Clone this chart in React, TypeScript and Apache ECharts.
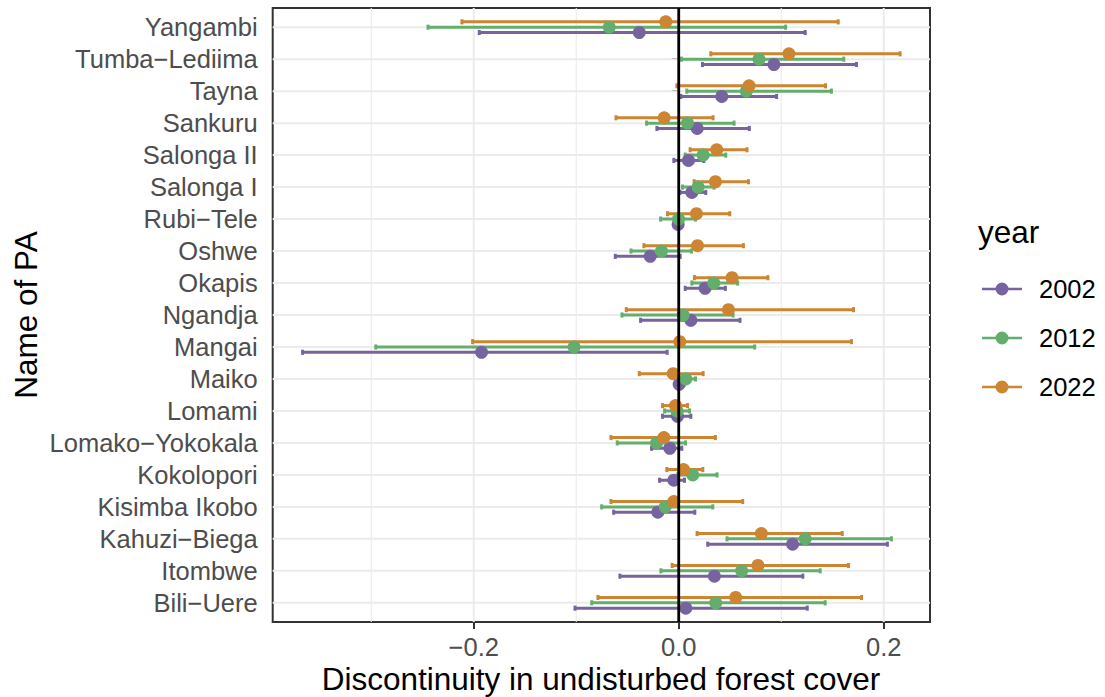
import React, { useEffect, useRef } from "react";
import * as echarts from "echarts";

// Categories bottom -> top
const CATEGORIES = [
  "Bili\u2212Uere", "Itombwe", "Kahuzi\u2212Biega", "Kisimba Ikobo", "Kokolopori",
  "Lomako\u2212Yokokala", "Lomami", "Maiko", "Mangai", "Ngandja", "Okapis", "Oshwe",
  "Rubi\u2212Tele", "Salonga I", "Salonga II", "Sankuru", "Tayna", "Tumba\u2212Lediima", "Yangambi",
];

const YEARS = ["2002", "2012", "2022"];

const EST_2002 = [0.0069, 0.0348, 0.1111, -0.0204, -0.0048, -0.0087, -0.0012, 0.0004, -0.1924, 0.0118, 0.0257, -0.0278, -0.0006, 0.0128, 0.0095, 0.018, 0.042, 0.0929, -0.0385];
const LO_2002 = [-0.1012, -0.0574, 0.0283, -0.0635, -0.0187, -0.0265, -0.0158, -0.003, -0.367, -0.0372, 0.0063, -0.0619, -0.004, 0.0011, -0.0048, -0.0213, 0.002, 0.0232, -0.1946];
const HI_2002 = [0.1254, 0.1211, 0.2036, 0.0157, 0.0056, 0.003, 0.0118, 0.005, -0.0113, 0.0598, 0.0455, 0.0014, 0.003, 0.0264, 0.0244, 0.0689, 0.0955, 0.1734, 0.1234];

const EST_2012 = [0.0361, 0.0614, 0.1234, -0.0132, 0.0137, -0.0216, -0.0016, 0.0069, -0.1021, 0.0043, 0.0342, -0.0168, -0.0002, 0.0189, 0.0238, 0.0085, 0.066, 0.0783, -0.0678];
const LO_2012 = [-0.0849, -0.0174, 0.0471, -0.0752, -0.001, -0.06, -0.0138, -0.002, -0.2956, -0.0554, 0.0128, -0.0466, -0.0177, 0.0037, 0.0063, -0.0314, 0.0079, 0.0027, -0.2446];
const HI_2012 = [0.1429, 0.138, 0.2075, 0.0332, 0.0374, 0.0066, 0.0105, 0.0164, 0.0741, 0.053, 0.0575, 0.0124, 0.0164, 0.0345, 0.0459, 0.054, 0.149, 0.161, 0.1043];

const EST_2022 = [0.0556, 0.0773, 0.0806, -0.0048, 0.0047, -0.0145, -0.0031, -0.0054, 0.001, 0.0485, 0.052, 0.0183, 0.0173, 0.0358, 0.0371, -0.0142, 0.0686, 0.1075, -0.0126];
const LO_2022 = [-0.0788, -0.0064, 0.0179, -0.0661, -0.0116, -0.0661, -0.0158, -0.0385, -0.2011, -0.0512, 0.0153, -0.034, -0.0109, 0.015, 0.0111, -0.0612, -0.0018, 0.0313, -0.2115];
const HI_2022 = [0.1783, 0.1656, 0.1595, 0.0624, 0.0235, 0.0358, 0.0086, 0.0238, 0.1685, 0.1705, 0.087, 0.0631, 0.0498, 0.068, 0.0666, 0.0335, 0.1432, 0.216, 0.1556];

const X_MAJOR = [-0.2, 0, 0.2];
const X_MINOR = [-0.3, -0.1, 0.1];

const COLORS = ["#7763A0", "#64AE6D", "#CD8531"];
const FONT = "'Liberation Sans', Arial, Helvetica, sans-serif";

export default function App() {
  const ref = useRef<HTMLDivElement>(null);
  useEffect(() => {
    if (!ref.current) return;
    const chart = echarts.init(ref.current, undefined, { renderer: "svg" });

    const est = [EST_2002, EST_2012, EST_2022];
    const lo = [LO_2002, LO_2012, LO_2022];
    const hi = [HI_2002, HI_2012, HI_2022];
    const DODGE = 0.5 / 3;
    const offsets = [-DODGE, 0, DODGE];
    const CAP = 0.08;

    const allLo = Math.min(...LO_2002, ...LO_2012, ...LO_2022);
    const allHi = Math.max(...HI_2002, ...HI_2012, ...HI_2022);
    const range = allHi - allLo;
    const X_MIN = allLo - 0.05 * range;
    const X_MAX = allHi + 0.05 * range;
    const Y_MIN = 0.4;
    const Y_MAX = CATEGORIES.length + 0.6;
    const Y_TICKS = CATEGORIES.map((_, i) => i + 1);

    const vLineSeries = (vals: number[], color: string, width: number, z: number) => ({
      type: "custom",
      silent: true,
      z,
      encode: { x: 0, y: 1 },
      data: vals.map((v) => [v, Y_MIN]),
      renderItem: (params: any, api: any) => {
        const cs = params.coordSys;
        const x = api.coord([api.value(0), api.value(1)])[0];
        return {
          type: "line",
          shape: { x1: x, y1: cs.y, x2: x, y2: cs.y + cs.height },
          style: { stroke: color, lineWidth: width },
        };
      },
    });

    const hLineSeries = {
      type: "custom",
      silent: true,
      z: 1,
      encode: { x: 0, y: 1 },
      data: Y_TICKS.map((v) => [X_MIN, v]),
      renderItem: (params: any, api: any) => {
        const cs = params.coordSys;
        const y = api.coord([api.value(0), api.value(1)])[1];
        return {
          type: "line",
          shape: { x1: cs.x, y1: y, x2: cs.x + cs.width, y2: y },
          style: { stroke: "#EBEBEB", lineWidth: 2 },
        };
      },
    };

    const errSeries = YEARS.map((name, k) => ({
      type: "custom",
      name,
      z: 2,
      silent: true,
      itemStyle: { color: COLORS[k] },
      encode: { x: [1, 2], y: 0 },
      data: CATEGORIES.map((_, i) => [i + 1 + offsets[k], lo[k][i], hi[k][i]]),
      renderItem: (params: any, api: any) => {
        const y = api.value(0);
        const a = api.value(1);
        const b = api.value(2);
        const p1 = api.coord([a, y]);
        const p2 = api.coord([b, y]);
        const t1 = api.coord([a, y + CAP]);
        const b1 = api.coord([a, y - CAP]);
        const t2 = api.coord([b, y + CAP]);
        const b2 = api.coord([b, y - CAP]);
        const style = { stroke: COLORS[k], lineWidth: 3 };
        return {
          type: "group",
          children: [
            { type: "line", shape: { x1: p1[0], y1: p1[1], x2: p2[0], y2: p2[1] }, style },
            { type: "line", shape: { x1: t1[0], y1: t1[1], x2: b1[0], y2: b1[1] }, style },
            { type: "line", shape: { x1: t2[0], y1: t2[1], x2: b2[0], y2: b2[1] }, style },
          ],
        };
      },
    }));

    const pointSeries = YEARS.map((name, k) => ({
      type: "scatter",
      name,
      z: 3,
      silent: true,
      symbol: "circle",
      symbolSize: 13,
      itemStyle: { color: COLORS[k], opacity: 1 },
      data: CATEGORIES.map((_, i) => [est[k][i], i + 1 + offsets[k]]),
    }));

    const ICON =
      "path://M0,5.2 L40,5.2 L40,7.8 L0,7.8 Z M13.5,6.5 A6.5,6.5 0 1,1 26.5,6.5 A6.5,6.5 0 1,1 13.5,6.5 Z";

    const fmtX = (v: number) => {
      if (Math.abs(v) < 1e-9) return "0.0";
      return (v < 0 ? "\u2212" : "") + Math.abs(v).toFixed(1);
    };

    const option: any = {
      animation: false,
      backgroundColor: "#ffffff",
      textStyle: { fontFamily: FONT },
      grid: {
        left: 272.7,
        top: 8,
        width: 657.3,
        height: 614,
        show: true,
        borderColor: "#333333",
        borderWidth: 2,
        backgroundColor: "#ffffff",
        containLabel: false,
      },
      xAxis: {
        type: "value",
        min: X_MIN,
        max: X_MAX,
        axisLine: { show: false },
        splitLine: { show: false },
        axisTick: { show: true, customValues: X_MAJOR, length: 7, lineStyle: { color: "#333333", width: 2 } },
        axisLabel: {
          customValues: X_MAJOR,
          formatter: fmtX,
          fontSize: 25.5,
          color: "#4D4D4D",
          margin: 12,
          fontFamily: FONT,
        },
      },
      yAxis: {
        type: "value",
        min: Y_MIN,
        max: Y_MAX,
        axisLine: { show: false },
        splitLine: { show: false },
        axisTick: { show: true, customValues: Y_TICKS, length: 7, lineStyle: { color: "#333333", width: 2 } },
        axisLabel: {
          customValues: Y_TICKS,
          formatter: (v: number) => CATEGORIES[Math.round(v) - 1] ?? "",
          fontSize: 25.5,
          color: "#4D4D4D",
          margin: 15,
          fontFamily: FONT,
        },
      },
      legend: {
        orient: "vertical",
        left: 982,
        top: 276,
        padding: 0,
        itemWidth: 40,
        itemHeight: 13,
        itemGap: 23,
        selectedMode: false,
        textStyle: { fontSize: 25.5, color: "#000000", padding: [0, 0, 0, 12], fontFamily: FONT },
        data: YEARS.map((y) => ({ name: y, icon: ICON })),
      },
      graphic: [
        {
          type: "text",
          x: 978,
          y: 232,
          style: { text: "year", fill: "#000000", font: `31.5px ${FONT}`, align: "left", verticalAlign: "middle" },
        },
        {
          type: "text",
          x: 601,
          y: 679,
          style: {
            text: "Discontinuity in undisturbed forest cover",
            fill: "#000000",
            font: `31.5px ${FONT}`,
            align: "center",
            verticalAlign: "middle",
          },
        },
        {
          type: "text",
          x: 26,
          y: 315,
          rotation: Math.PI / 2,
          style: { text: "Name of PA", fill: "#000000", font: `31.5px ${FONT}`, align: "center", verticalAlign: "middle" },
        },
      ],
      series: [
        vLineSeries(X_MINOR, "#EBEBEB", 1.1, 1),
        vLineSeries(X_MAJOR, "#EBEBEB", 2, 1),
        hLineSeries,
        ...errSeries,
        ...pointSeries,
        vLineSeries([0], "#000000", 2.8, 5),
      ],
    };

    chart.setOption(option);
    return () => chart.dispose();
  }, []);

  return (
    <div
      ref={ref}
      style={{ position: "fixed", left: 0, top: 0, width: 1105, height: 697, background: "#fff" }}
    />
  );
}
